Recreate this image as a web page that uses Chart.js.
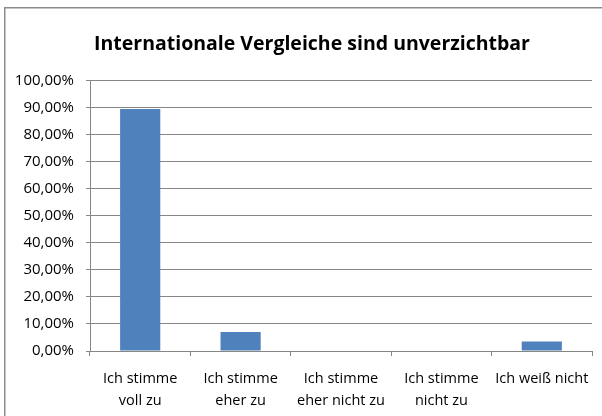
<!DOCTYPE html>
<html>
<head>
<meta charset="utf-8">
<script src="https://cdn.jsdelivr.net/npm/chart.js@4"></script>
<style>
  html, body { margin: 0; padding: 0; background: #fff; }
  #wrap { width: 602px; height: 416px; }
</style>
</head>
<body>
<div id="wrap"><canvas id="graph" width="602" height="416"></canvas></div>
<script>
// data
const categories = [
  ["Ich stimme", "voll zu"],
  ["Ich stimme", "eher zu"],
  ["Ich stimme", "eher nicht zu"],
  ["Ich stimme", "nicht zu"],
  "Ich weiß nicht"
];
const shares = [89.47, 7.02, 0, 0, 3.51];
const chartTitle = "Internationale Vergleiche sind unverzichtbar";

const FONT = "'Open Sans', 'Liberation Sans', sans-serif";
const GRID = "#868686";

// outer frame of the chart object, and the title centred on that frame
const framePlugin = {
  id: "frame",
  afterLayout(chart) {
    const t = chart.titleBlock;
    if (t) { t.left += 14; t.right += 14; }
  },
  beforeDraw(chart) {
    const ctx = chart.ctx;
    ctx.save();
    ctx.fillStyle = "#fff";
    ctx.fillRect(0, 0, chart.width, chart.height);
    ctx.strokeStyle = "#8c8c8c";
    ctx.lineWidth = 1.5;
    ctx.strokeRect(4.75, 7.75, 700, 500);
    ctx.restore();
  }
};

function pct(v) {
  return v.toFixed(2).replace(".", ",") + "%";
}

function initChart() {
  const ctx = document.getElementById("graph").getContext("2d");

  new Chart(ctx, {
    type: "bar",
    data: {
      labels: categories,
      datasets: [{
        data: shares,
        backgroundColor: "#4f81bd",
        borderWidth: 0,
        barPercentage: 0.4,
        categoryPercentage: 1
      }]
    },
    options: {
      responsive: false,
      animation: false,
      layout: { padding: { left: 4, right: 10, top: 8, bottom: 0 } },
      plugins: {
        legend: { display: false },
        tooltip: { enabled: false },
        title: {
          display: true,
          text: chartTitle,
          color: "#000",
          font: { family: FONT, size: 19.5, weight: "bold" },
          padding: { top: 25, bottom: 24 }
        }
      },
      scales: {
        x: {
          grid: {
            offset: true,
            drawOnChartArea: false,
            color: GRID,
            tickLength: 5
          },
          border: { color: GRID },
          ticks: {
            color: "#000",
            font: { family: FONT, size: 14.5, lineHeight: 1.5 },
            maxRotation: 0,
            padding: 12
          },
          afterFit(scale) { scale.height = 65; }
        },
        y: {
          min: 0,
          max: 100,
          grid: { color: GRID, tickLength: 4 },
          border: { color: GRID },
          ticks: {
            stepSize: 10,
            color: "#000",
            font: { family: FONT, size: 15 },
            padding: 12,
            callback: (v) => pct(v)
          },
          afterFit(scale) { scale.width = 86; }
        }
      }
    },
    plugins: [framePlugin]
  });
}

initChart();
</script>
</body>
</html>
